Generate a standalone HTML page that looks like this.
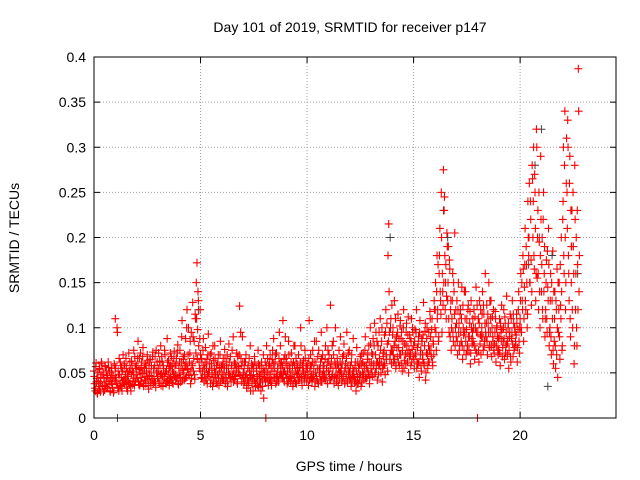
<!DOCTYPE html>
<html><head><meta charset="utf-8"><style>
html,body{margin:0;padding:0;background:#fff;}
svg{display:block;font-family:"Liberation Sans",sans-serif;}
</style></head><body>
<svg id="chart" width="640" height="480" viewBox="0 0 640 480">
<text x="350" y="32" text-anchor="middle" font-size="14">Day 101 of 2019, SRMTID for receiver p147</text>
<text x="349" y="471" text-anchor="middle" font-size="14">GPS time / hours</text>
<text x="19" y="238" text-anchor="middle" font-size="14" transform="rotate(-90 19 238)">SRMTID / TECUs</text>
<g id="grid"></g>
<g id="ticks"></g>
<g id="grayPts"></g>
<g id="redPts"></g>
<rect x="94" y="57" width="522" height="361" fill="none" stroke="#000" stroke-width="1"/>
</svg>
<script>
const xTicks = [0, 5, 10, 15, 20];
const yTicks = [0, 0.05, 0.1, 0.15, 0.2, 0.25, 0.3, 0.35, 0.4];
const yTickLabels = ["0", "0.05", "0.1", "0.15", "0.2", "0.25", "0.3", "0.35", "0.4"];
const binStartHours = [0,0.2,0.4,0.6,0.8, 1,1.2,1.4,1.6,1.8, 2,2.2,2.4,2.6,2.8, 3,3.2,3.4,3.6,3.8, 4,4.2,4.4,4.6,4.8, 5,5.2,5.4,5.6,5.8, 6,6.2,6.4,6.6,6.8, 7,7.2,7.4,7.6,7.8, 8,8.2,8.4,8.6,8.8, 9,9.2,9.4,9.6,9.8, 10,10.2,10.4,10.6,10.8, 11,11.2,11.4,11.6,11.8, 12,12.2,12.4,12.6,12.8, 13,13.2,13.4,13.6,13.8, 14,14.2,14.4,14.6,14.8, 15,15.2,15.4,15.6,15.8, 16,16.2,16.4,16.6,16.8, 17,17.2,17.4,17.6,17.8, 18,18.2,18.4,18.6,18.8, 19,19.2,19.4,19.6,19.8, 20,20.2,20.4,20.6,20.8, 21,21.2,21.4,21.6,21.8, 22,22.2,22.4,22.6];
const redValues = [
[52,38,30,61,44,27],[41,35,55,29,48,60],[36,50,44,31,57,40],[45,33,62,38,52,29],[40,55,34,47,30,58],
[110,45,38,95,52,30],[48,62,35,55,41,70],[39,58,44,66,33,51],[46,72,38,55,30,63],[52,41,75,36,60,44],
[58,44,85,37,66,50],[41,62,49,78,35,55],[60,38,52,70,44,32],[47,65,36,58,42,73],[55,40,68,34,50,62],
[44,72,38,58,80,49],[62,35,55,46,70,40],[52,88,41,64,36,57],[45,68,39,60,50,74],[58,42,66,47,81,37],
[48,75,40,62,108,53],[65,42,58,88,45,120],[54,100,47,72,38,95],[60,128,52,85,43,110],[150,172,98,130,62,88],
[70,45,62,52,88,40],[55,78,42,65,48,93],[46,60,38,72,53,35],[64,45,80,50,40,58],[48,70,36,55,85,44],
[58,42,66,50,76,38],[45,62,35,55,82,48],[68,40,58,46,90,52],[43,60,50,72,38,57],[55,124,47,66,40,90],
[50,38,62,45,70,33],[42,58,36,52,80,47],[60,44,30,55,68,40],[38,52,46,75,34,58],[48,30,62,42,55,22],
[44,62,0,80,50,40],[58,42,70,48,36,65],[52,88,45,62,38,72],[46,55,40,95,60,50],[62,45,108,52,40,70],
[48,66,38,58,85,44],[55,40,72,50,35,62],[45,80,52,38,60,48],[70,42,56,100,46,36],[52,64,40,75,48,58],
[44,60,36,108,52,70],[58,40,75,46,62,35],[50,85,42,68,38,55],[46,62,95,40,70,52],[58,44,80,48,100,38],
[52,70,42,125,60,46],[48,85,38,62,100,55],[44,60,36,75,50,90],[55,40,68,46,82,38],[60,48,95,40,72,52],
[42,58,35,70,48,88],[52,40,62,30,78,46],[38,55,45,68,35,60],[50,72,42,58,90,46],[44,65,52,80,38,100],
[55,72,46,88,60,105],[50,95,62,42,80,58],[66,110,50,85,40,72],[58,92,48,120,65,82],[180,215,95,70,110,60],
[75,100,62,130,85,55],[90,68,115,78,58,102],[70,95,52,85,120,64],[82,60,105,72,92,50],[68,88,58,110,76,95],
[80,55,98,70,120,62],[60,90,45,108,75,52],[85,65,128,58,96,42],[72,100,55,80,62,118],[90,68,110,58,82,130],
[100,150,75,180,120,85],[160,210,130,250,95,140],[275,230,180,150,110,205],[130,190,95,165,120,75],[110,160,85,140,205,100],
[90,130,70,150,105,80],[120,85,145,65,100,75],[95,140,70,110,80,125],[75,105,60,130,88,95],[85,120,65,100,145,72],
[0,110,62,130,92,70],[100,140,75,115,85,160],[90,125,70,105,150,80],[95,130,68,112,85,75],[82,118,62,100,90,70],
[75,110,58,95,125,68],[85,120,65,105,80,135],[70,100,55,90,115,62],[88,130,68,105,78,95],[80,115,62,98,140,72],
[110,160,95,130,180,85],[145,210,120,170,100,240],[180,260,150,220,125,280],[200,300,165,250,130,320],[155,230,120,195,100,290],
[140,200,110,250,160,90],[120,175,95,145,210,80],[100,160,70,130,185,60],[85,140,55,120,165,45],[95,150,65,125,200,75],
[220,300,160,340,120,260],[250,330,180,130,290,90],[150,230,100,190,60,280],[120,200,80,170,387,140]
];
const redValues2 = [
[46,33,57,40,28,50],[38,54,31,45,62,36],[48,29,40,58,35,52],[33,47,56,41,30,44],[50,37,45,28,60,42],
[55,40,100,33,48,66],[36,58,45,30,52,42],[60,37,48,55,42,30],[40,52,62,35,48,58],[37,50,44,68,40,55],
[48,66,40,54,36,72],[56,45,68,38,50,42],[42,58,46,64,36,55],[62,40,50,44,68,38],[46,58,40,75,52,44],
[55,40,63,48,36,68],[46,58,42,75,50,38],[40,62,48,55,44,72],[58,42,52,38,66,46],[48,60,44,72,38,55],
[62,45,55,90,42,68],[50,70,44,60,100,55],[70,48,62,85,52,44],[58,90,66,48,115,72],[110,65,140,80,55,120],
[52,66,44,75,58,48],[62,44,55,38,70,50],[55,70,42,60,48,80],[40,55,66,45,58,38],[62,44,52,70,40,56],
[48,60,42,55,66,45],[55,70,40,50,62,44],[45,58,75,48,40,62],[60,46,55,40,68,50],[70,48,95,58,44,62],
[45,55,40,62,48,36],[55,40,66,45,30,52],[38,58,48,42,62,35],[55,44,36,60,48,40],[40,55,46,35,70,50],
[52,40,58,45,66,36],[48,60,40,55,42,75],[60,44,55,70,48,40],[55,42,66,48,80,58],[48,58,44,65,52,90],
[60,45,52,40,70,55],[46,62,44,58,38,80],[58,40,66,48,55,42],[52,45,62,80,42,58],[60,50,44,66,55,40],
[55,48,66,42,58,45],[48,62,44,55,85,40],[62,46,55,40,75,50],[55,40,66,48,58,45],[48,65,42,55,62,75],
[62,48,55,42,66,80],[55,70,45,60,48,40],[66,48,55,42,62,52],[48,60,44,70,52,40],[55,66,42,58,48,75],
[50,44,62,40,55,46],[45,58,40,52,38,62],[55,42,60,48,70,40],[62,48,55,75,44,58],[55,70,48,62,45,82],
[62,50,70,58,80,48],[70,55,85,62,48,95],[58,75,62,100,55,68],[75,60,95,70,105,52],[85,140,65,100,75,125],
[92,70,80,65,110,58],[78,95,62,88,70,108],[88,60,75,100,55,82],[70,95,80,62,112,75],[92,70,85,62,100,68],
[65,85,72,95,55,78],[82,62,95,70,58,88],[70,92,60,80,105,50],[88,70,62,95,75,110],[75,98,62,85,70,120],
[120,95,140,110,170,90],[180,140,115,200,160,125],[150,245,120,170,135,190],[150,110,175,90,130,100],[130,95,150,115,80,120],
[105,85,120,95,75,115],[95,110,80,125,92,140],[110,85,98,75,120,90],[90,118,72,100,82,110],[100,80,112,75,95,125],
[95,75,105,82,120,90],[115,90,125,80,105,95],[105,85,115,95,78,130],[110,80,100,90,120,72],[95,110,80,102,75,88],
[90,72,105,85,98,78],[100,88,112,72,95,82],[85,105,75,95,68,110],[95,82,115,75,100,85],[92,105,78,120,85,100],
[130,100,150,120,165,110],[170,130,190,150,115,200],[200,150,240,175,140,265],[240,180,270,210,160,300],[200,160,250,140,180,220],
[170,120,220,140,190,110],[150,110,185,130,170,95],[130,90,150,110,75,140],[110,80,130,70,100,150],[120,90,170,110,140,80],
[240,180,280,200,150,310],[210,300,160,260,110,230],[190,120,250,160,80,220],[160,100,230,120,340,180]
];
const grayHours = [0.3,1.1,4.9,13.9,16.4,16.6,17.2,18.9,20.4,20.7,20.9,21.0,21.5,22.4,22.7,21.3];
const grayValues = [40,0,120,200,230,200,120,100,170,280,200,320,180,190,160,35];

const X0=94,X1=616,Y0=418,Y1=57,XMAX=24.5,YMAX=0.4;
const sx=v=>X0+(X1-X0)*v/XMAX;
const sy=v=>Y0-(Y0-Y1)*v/YMAX;
const NS="http://www.w3.org/2000/svg";
function mk(tag,attrs,parent){const e=document.createElementNS(NS,tag);for(const k in attrs)e.setAttribute(k,attrs[k]);parent.appendChild(e);return e;}
const grid=document.getElementById('grid'),ticks=document.getElementById('ticks');
yTicks.forEach((t,i)=>{
  const y=sy(t);
  if(i>0&&i<yTicks.length-1){const g=mk('line',{x1:X0,x2:X1,y1:y,y2:y,stroke:'#a0a0a0','stroke-dasharray':'1,2','stroke-width':1},grid);
  
  }
  mk('line',{x1:X0,x2:X0+6,y1:y,y2:y,stroke:'#000'},ticks);
  mk('line',{x1:X1,x2:X1-6,y1:y,y2:y,stroke:'#000'},ticks);
  const tx=mk('text',{x:X0-8,y:y+5,'text-anchor':'end','font-size':14},ticks);
  tx.textContent=yTickLabels[i];
  
  
});
xTicks.forEach((t,i)=>{
  const x=sx(t);
  if(i>0){const g=mk('line',{x1:x,x2:x,y1:Y0,y2:Y1,stroke:'#a0a0a0','stroke-dasharray':'1,2','stroke-width':1},grid);
  
  }
  mk('line',{x1:x,x2:x,y1:Y0,y2:Y0-6,stroke:'#000'},ticks);
  mk('line',{x1:x,x2:x,y1:Y1,y2:Y1+6,stroke:'#000'},ticks);
  const tx=mk('text',{x:x,y:Y0+22,'text-anchor':'middle','font-size':14},ticks);
  tx.textContent=String(t);
  
  
});
function plus(x,y){return `M${x-4},${y}h8M${x},${y-4}v8`;}
let dg='';
grayHours.forEach((h,i)=>{dg+=plus(sx(h),sy(grayValues[i]/1000));});
const gp=mk('path',{d:dg,stroke:'#404040','stroke-width':1,fill:'none'},document.getElementById('grayPts'));


let dr='';
binStartHours.forEach((h,i)=>{
  redValues[i].forEach((v,j)=>{dr+=plus(sx(h+j*0.033),sy(v/1000));});
  redValues2[i].forEach((v,j)=>{dr+=plus(sx(h+0.016+j*0.033),sy(v/1000));});
});
const rp=mk('path',{d:dr,stroke:'#ff0000','stroke-width':1.1,fill:'none'},document.getElementById('redPts'));


</script>
</body></html>
